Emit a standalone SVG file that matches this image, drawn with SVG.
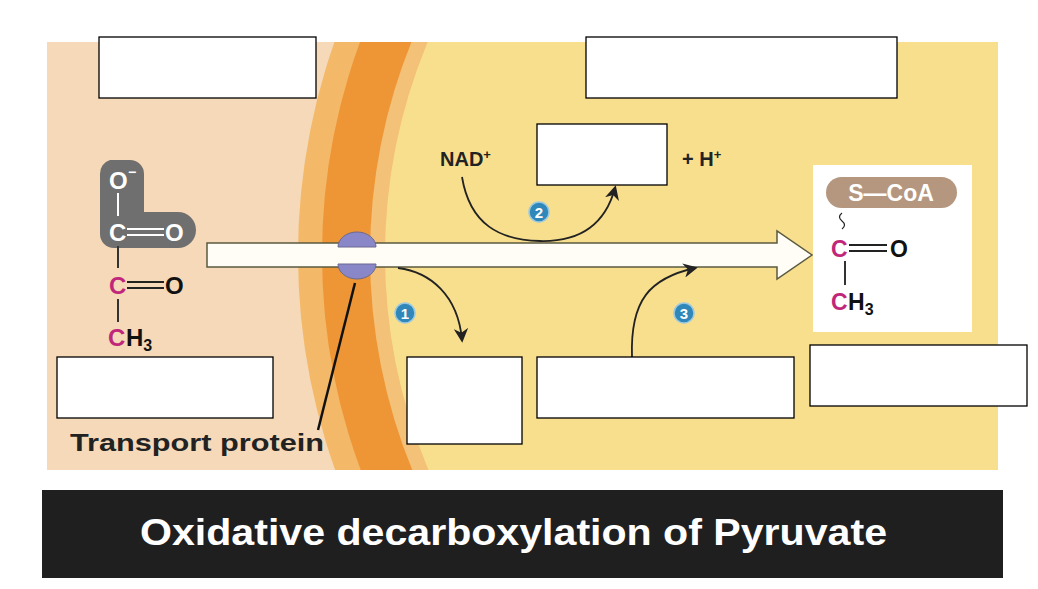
<svg xmlns="http://www.w3.org/2000/svg" width="1038" height="589" viewBox="0 0 1038 589">
<style>
.b{font-family:"Liberation Sans",Arial,sans-serif;font-weight:bold}
.box{fill:#fff;stroke:#000;stroke-width:1.3}
.ln{fill:none;stroke:#222;stroke-width:1.8}
.num{fill:#2f88b9;stroke:#9cc9e0;stroke-width:1.5}
</style>
<defs>
<clipPath id="c"><rect x="47" y="42" width="951" height="428"/></clipPath>
<marker id="ah" viewBox="0 0 10 10" refX="8" refY="5" markerWidth="8" markerHeight="8" orient="auto"><path d="M0,0 L10,5 L0,10 L3,5 Z" fill="#222"/></marker>
</defs>
<rect width="1038" height="589" fill="#fff"/>
<g id="background" clip-path="url(#c)">
<rect x="47" y="42" width="951" height="428" fill="#f5d9b8"/>
<circle cx="938" cy="255" r="640" fill="#f3b868"/>
<circle cx="938" cy="255" r="616" fill="#ee9535"/>
<circle cx="938" cy="255" r="568" fill="#f3c177"/>
<circle cx="938" cy="255" r="553" fill="#f8df8e"/>
</g>
<g id="pyruvate">
<path d="M110,160 h20 a14,14 0 0 1 14,14 v38 h34 a18,18 0 0 1 0,36 h-64 a14,14 0 0 1 -14,-14 v-60 a14,14 0 0 1 10,-14z" fill="#6f6f6f"/>
<text x="109" y="189" class="b" font-size="24" fill="#fff">O</text>
<text x="128" y="177" class="b" font-size="14" fill="#fff">−</text>
<line x1="118" y1="193" x2="118" y2="216" stroke="#fff" stroke-width="2"/>
<text x="109" y="241" class="b" font-size="24" fill="#fff">C</text>
<line x1="127" y1="229" x2="164" y2="229" stroke="#fff" stroke-width="2"/><line x1="127" y1="235" x2="164" y2="235" stroke="#fff" stroke-width="2"/>
<text x="165" y="241" class="b" font-size="24" fill="#fff">O</text>
<line x1="118" y1="246" x2="118" y2="268" stroke="#333" stroke-width="2"/>
<text x="109" y="294" class="b" font-size="24" fill="#c0277a">C</text>
<line x1="127" y1="282" x2="164" y2="282" stroke="#222" stroke-width="2"/><line x1="127" y1="288" x2="164" y2="288" stroke="#222" stroke-width="2"/>
<text x="165" y="294" class="b" font-size="24" fill="#111">O</text>
<line x1="118" y1="299" x2="118" y2="322" stroke="#333" stroke-width="2"/>
<text x="108" y="346" class="b" font-size="24" fill="#c0277a">C</text>
<text x="126" y="346" class="b" font-size="24" fill="#111">H<tspan font-size="16" dy="5">3</tspan></text>
</g>
<g id="acetylcoa">
<rect x="813" y="165" width="159" height="167" fill="#fff"/>
<rect x="826" y="177" width="131" height="31" rx="15.5" fill="#b5977f"/>
<text x="891" y="201" class="b" font-size="23" fill="#fff" text-anchor="middle">S—CoA</text>
<path d="M842,213 q-5,4 0,8 q5,4 0,8" fill="none" stroke="#222" stroke-width="1.2"/>
<text x="831" y="257" class="b" font-size="23" fill="#c0277a">C</text>
<line x1="849" y1="245" x2="887" y2="245" stroke="#222" stroke-width="2"/><line x1="849" y1="251" x2="887" y2="251" stroke="#222" stroke-width="2"/>
<text x="890" y="257" class="b" font-size="23" fill="#111">O</text>
<line x1="845" y1="261" x2="845" y2="285" stroke="#333" stroke-width="2"/>
<text x="831" y="310" class="b" font-size="23" fill="#c0277a">C</text>
<text x="848" y="310" class="b" font-size="23" fill="#111">H<tspan font-size="16" dy="5">3</tspan></text>
</g>
<g id="connectors">
<path d="M207,243 H777 V231 L812,255 L777,279 V267 H207 Z" fill="#fffdf5" stroke="#5a5a40" stroke-width="1.5"/>
<path d="M462,177 C470,225 500,240 540,241 C580,242 605,225 615,188" class="ln" marker-end="url(#ah)"/>
<path d="M398,268 C430,272 458,295 462,340" class="ln" marker-end="url(#ah)"/>
<path d="M632,357 C630,300 650,278 695,268" class="ln" marker-end="url(#ah)"/>
<line x1="355" y1="283" x2="318" y2="430" stroke="#111" stroke-width="2.5"/>
</g>
<g id="transport">
<path d="M338,247 a19,15 0 0 1 38,0 Z" fill="#8a87c8" stroke="#6a6890"/>
<path d="M338,264 a19,15 0 0 0 38,0 Z" fill="#8a87c8" stroke="#6a6890"/>
</g>
<g id="labels">
<text x="70" y="451" class="b" font-size="23" fill="#222" textLength="254" lengthAdjust="spacingAndGlyphs">Transport protein</text>
<text x="440" y="166" class="b" font-size="20" fill="#222">NAD<tspan font-size="13" dy="-7">+</tspan></text>
<text x="682" y="166" class="b" font-size="20" fill="#222">+ H<tspan font-size="13" dy="-7">+</tspan></text>
<circle cx="539" cy="212" r="10" class="num"/><text x="539" y="218" class="b" font-size="15" fill="#fff" text-anchor="middle">2</text>
<circle cx="405" cy="313" r="10" class="num"/><text x="405" y="319" class="b" font-size="15" fill="#fff" text-anchor="middle">1</text>
<circle cx="684" cy="313" r="10" class="num"/><text x="684" y="319" class="b" font-size="15" fill="#fff" text-anchor="middle">3</text>
</g>
<g id="boxes">
<rect x="99" y="37" width="217" height="61" class="box"/>
<rect x="586" y="37" width="311" height="61" class="box"/>
<rect x="537" y="124" width="130" height="61" class="box"/>
<rect x="57" y="357" width="216" height="61" class="box"/>
<rect x="407" y="357" width="115" height="87" class="box"/>
<rect x="537" y="357" width="257" height="61" class="box"/>
<rect x="810" y="345" width="217" height="61" class="box"/>
</g>
<g id="title">
<rect x="42" y="490" width="961" height="88" fill="#1f1f1f"/>
<text x="140" y="545" class="b" font-size="37" fill="#fff" textLength="747" lengthAdjust="spacingAndGlyphs">Oxidative decarboxylation of Pyruvate</text>
</g>
</svg>
